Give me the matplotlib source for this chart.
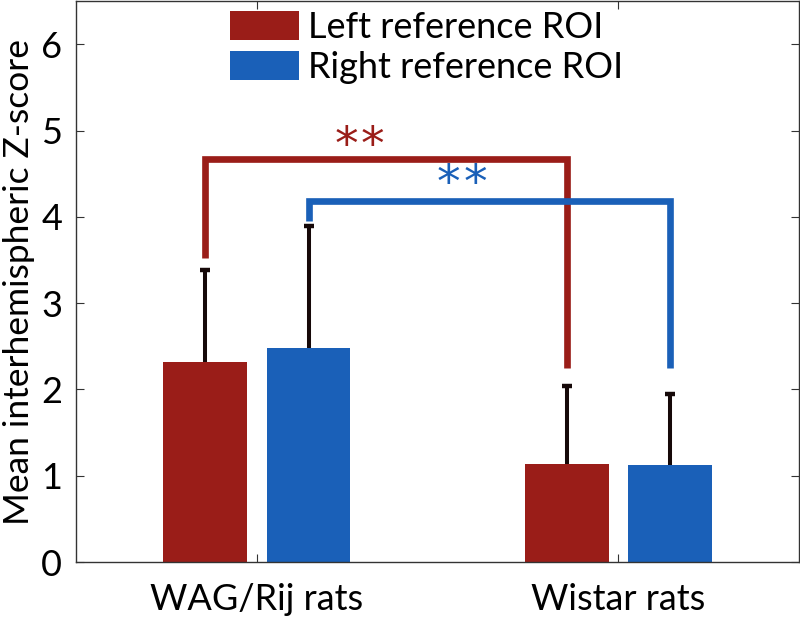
import matplotlib
matplotlib.use("Agg")
import matplotlib.pyplot as plt
import numpy as np

plt.rcParams['font.family'] = ['Lato', 'DejaVu Sans']

groups = ["WAG/Rij rats", "Wistar rats"]
series = ["Left reference ROI", "Right reference ROI"]
left_means = [2.32, 1.14]
right_means = [2.48, 1.12]
left_err = [1.06, 0.90]
right_err = [1.41, 0.83]
yticks = [0, 1, 2, 3, 4, 5, 6]

red = "#9a1d18"
blue = "#1a60b8"
ecol = "#160909"

fig = plt.figure(figsize=(8, 6.21), dpi=100)
ax = fig.add_axes([0.095, 0.095, 0.904, 0.903])

x = np.arange(1, len(groups) + 1)
off = 0.143
w = 0.232
b1 = ax.bar(x - off, left_means, w, color=red, label=series[0], zorder=2)
b2 = ax.bar(x + off, right_means, w, color=blue, label=series[1], zorder=2)

# upper-only error bars
for xs, m, e in [(x - off, left_means, left_err), (x + off, right_means, right_err)]:
    tops = np.array(m) + np.array(e)
    ax.vlines(xs, m, tops, colors=ecol, lw=2.9, zorder=1)
    ax.plot(xs, tops, ls='none', marker='_', ms=7, mew=3.2, color=ecol, zorder=1)

# significance brackets
def bracket(x0, x1, ylow0, ylow1, ytop, color, starxs, stary):
    ax.plot([x0, x0, x1, x1], [ylow0, ytop, ytop, ylow1], color=color,
            lw=4.8, solid_joinstyle='miter', solid_capstyle='butt', zorder=3)
    for sx in starxs:
        ax.text(sx, stary, "*", color=color, fontsize=34, ha='center',
                va='center', family='DejaVu Sans')

bracket(x[0] - off, x[1] - off, 3.52, 2.25, 4.67, red, [1.247, 1.320], 4.82)
bracket(x[0] + off, x[1] + off, 3.95, 2.25, 4.19, blue, [1.530, 1.604], 4.37)

ax.set_xlim(0.5, 2.5)
ax.set_ylim(0, 6.5)
ax.set_yticks(yticks)
ax.set_yticklabels([str(t) for t in yticks])
ax.set_xticks(x)
ax.set_xticklabels(groups)
ax.tick_params(direction='in', length=6, width=0.8, color='#333333',
               labelsize=26, top=True, right=True, pad=10)
ax.tick_params(axis='x', pad=15)
for s in ax.spines.values():
    s.set_color('#333333')
    s.set_linewidth(1.0)
ax.set_ylabel("Mean interhemispheric Z-score", fontsize=25.5, labelpad=4)

ax.legend(handles=[b1, b2], loc='upper left',
          bbox_to_anchor=((230 - 76) / 723, 1 - 10 / 561),
          frameon=False, fontsize=26, borderpad=0, borderaxespad=0,
          handlelength=1.9, handleheight=0.85, handletextpad=0.25,
          labelspacing=0.18)

fig.savefig("out.png", dpi=100)
